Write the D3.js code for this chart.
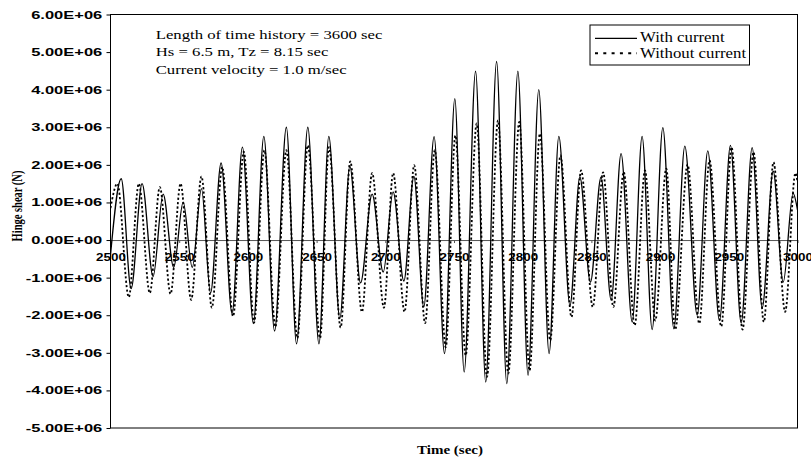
<!DOCTYPE html>
<html>
<head>
<meta charset="utf-8">
<script src="https://cdn.jsdelivr.net/npm/d3@7"></script>
<style>
  body { margin: 0; background: #fff; }
  svg { display: block; }
</style>
</head>
<body>
<div id="chart"></div>
<script>
// Peaks and troughs (time in sec, hinge shear in N)
const withTime = [2500, 2507.8, 2515.0, 2523.0, 2531.0, 2538.3, 2546.0, 2552.9, 2559.5, 2566.2, 2572.8,
  2580.5, 2588.5, 2596.0, 2604.0, 2611.6, 2619.4, 2628.0, 2635.4, 2643.6, 2651.7, 2658.9, 2666.9,
  2674.2, 2682.0, 2690.4, 2698.5, 2705.7, 2713.5, 2720.8, 2728.0, 2735.5, 2743.1, 2750.6, 2757.4,
  2765.7, 2773.1, 2781.0, 2788.4, 2796.5, 2803.9, 2811.7, 2819.2, 2826.3, 2834.4, 2841.6, 2849.3,
  2857.0, 2864.4, 2871.6, 2879.7, 2886.9, 2894.2, 2902.0, 2910.0, 2918.0, 2927.0, 2934.7, 2943.2,
  2951.2, 2959.0, 2967.0, 2974.3, 2982.3, 2989.6, 2996.8, 3000];
const withShear = [-0.40e6, 1.63e6, -1.29e6, 1.50e6, -0.97e6, 1.22e6, -0.73e6, 1.01e6, -0.73e6, 1.37e6, -1.41e6,
  2.05e6, -1.96e6, 2.47e6, -2.22e6, 2.76e6, -2.42e6, 3.00e6, -2.76e6, 3.00e6, -2.76e6, 2.76e6, -2.09e6,
  1.96e6, -1.14e6, 1.22e6, -0.85e6, 1.28e6, -1.09e6, 1.69e6, -1.78e6, 2.75e6, -3.02e6, 3.76e6, -3.51e6,
  4.49e6, -3.78e6, 4.75e6, -3.82e6, 4.49e6, -3.60e6, 4.00e6, -3.02e6, 2.76e6, -1.74e6, 1.68e6, -1.12e6,
  1.67e6, -1.60e6, 2.30e6, -2.18e6, 2.76e6, -2.38e6, 2.99e6, -2.36e6, 2.50e6, -2.00e6, 2.37e6, -2.14e6,
  2.52e6, -2.21e6, 2.46e6, -1.80e6, 1.83e6, -1.12e6, 1.24e6, 0.80e6];

const withoutTime = [2500, 2505.0, 2513.3, 2520.6, 2528.6, 2535.9, 2543.7, 2551.0, 2558.7, 2566.2, 2573.8,
  2581.3, 2589.2, 2597.0, 2604.5, 2612.0, 2620.0, 2628.0, 2636.0, 2643.6, 2652.5, 2659.0, 2667.5,
  2674.5, 2683.0, 2690.4, 2699.0, 2705.7, 2714.0, 2721.0, 2729.0, 2736.0, 2744.0, 2751.0, 2758.5,
  2766.5, 2774.0, 2782.0, 2789.5, 2797.5, 2805.0, 2812.5, 2820.0, 2827.5, 2835.5, 2842.5, 2851.0,
  2858.5, 2866.0, 2873.5, 2881.5, 2889.0, 2896.5, 2904.5, 2911.0, 2920.0, 2928.5, 2936.0, 2944.5,
  2952.0, 2960.0, 2968.0, 2975.5, 2982.5, 2991.0, 2998.5, 3000];
const withoutShear = [0.85e6, 1.50e6, -1.52e6, 1.50e6, -1.41e6, 1.41e6, -1.43e6, 1.50e6, -1.59e6, 1.69e6, -1.80e6,
  1.94e6, -2.03e6, 2.35e6, -2.20e6, 2.39e6, -2.31e6, 2.39e6, -2.61e6, 2.52e6, -2.61e6, 2.47e6, -2.33e6,
  2.09e6, -1.91e6, 1.78e6, -1.80e6, 1.78e6, -1.91e6, 1.99e6, -2.21e6, 2.39e6, -2.85e6, 2.78e6, -3.07e6,
  3.10e6, -3.64e6, 3.18e6, -3.55e6, 3.14e6, -3.47e6, 2.83e6, -2.67e6, 2.25e6, -2.05e6, 1.85e6, -1.78e6,
  1.80e6, -1.78e6, 1.81e6, -2.27e6, 1.85e6, -2.14e6, 1.90e6, -2.38e6, 2.01e6, -2.22e6, 2.12e6, -2.30e6,
  2.47e6, -2.38e6, 2.34e6, -2.18e6, 2.07e6, -1.91e6, 1.78e6, 1.55e6];

const seriesNames = ["With current", "Without current"];
const xTicks = d3.range(2500, 3001, 50);
const yTicks = d3.range(-5e6, 6e6 + 1, 1e6);
const notes = ["Length of time history = 3600 sec", "Hs = 6.5 m, Tz = 8.15 sec", "Current velocity = 1.0 m/sec"];

const sans = "'Liberation Sans', Arial, sans-serif";
const serif = "'Liberation Serif', 'Times New Roman', serif";

const margin = { top: 14.5, right: 13.5, bottom: 31, left: 110.5 };
const width = 811 - margin.left - margin.right;
const height = 459 - margin.top - margin.bottom;

const svg = d3.select("#chart")
  .append("svg")
  .attr("width", 811)
  .attr("height", 459)
  .append("g")
  .attr("transform", `translate(${margin.left},${margin.top})`);

const x = d3.scaleLinear().domain([2500, 3000]).range([0, width]);
const y = d3.scaleLinear().domain([-5e6, 6e6]).range([height, 0]);

// "6.00E+06" style labels
function sciLabel(v) {
  if (v === 0) return "0.00E+00";
  const e = Math.floor(Math.log10(Math.abs(v)) + 1e-9);
  const m = v / Math.pow(10, e);
  return m.toFixed(2) + "E" + (e < 0 ? "-" : "+") + String(Math.abs(e)).padStart(2, "0");
}

svg.append("defs").append("clipPath").attr("id", "plot-clip")
  .append("rect").attr("width", width).attr("height", height);

// Y axis
const yAxis = svg.append("g")
  .call(d3.axisLeft(y).tickValues(yTicks).tickFormat(sciLabel).tickSizeInner(4).tickSizeOuter(0).tickPadding(1.5));
yAxis.select(".domain").remove();
yAxis.selectAll("line").attr("stroke", "#000");
yAxis.selectAll("text")
  .attr("transform", "scale(1.5,1)")
  .attr("font-family", sans)
  .attr("font-weight", "bold")
  .attr("font-size", "11px")
  .attr("fill", "#000");

// X axis along zero
const xAxis = svg.append("g")
  .attr("transform", `translate(0,${y(0)})`)
  .call(d3.axisBottom(x).tickValues(xTicks).tickFormat(d3.format("d")).tickSizeInner(3).tickSizeOuter(0).tickPadding(10.5));
xAxis.select(".domain").attr("stroke", "#555");
xAxis.selectAll("line").attr("stroke", "#555");
xAxis.selectAll("text")
  .attr("transform", "scale(1.22,1)")
  .attr("font-family", sans)
  .attr("font-weight", "bold")
  .attr("font-size", "11px")
  .attr("fill", "#000");

// Lines
const line = d3.line()
  .x(d => x(d[0]))
  .y(d => y(d[1]))
  .curve(d3.curveMonotoneX);

const lines = svg.append("g").attr("clip-path", "url(#plot-clip)");

lines.append("path")
  .datum(d3.zip(withoutTime, withoutShear))
  .attr("fill", "none")
  .attr("stroke", "#000")
  .attr("stroke-width", 1.8)
  .attr("stroke-dasharray", "2.2,2.2")
  .attr("d", line);

lines.append("path")
  .datum(d3.zip(withTime, withShear))
  .attr("fill", "none")
  .attr("stroke", "#000")
  .attr("stroke-width", 1.3)
  .attr("d", line);

// Plot frame
svg.append("rect")
  .attr("width", width)
  .attr("height", height)
  .attr("fill", "none")
  .attr("stroke", "#000")
  .attr("stroke-width", 1);

// Notes
notes.forEach(function(t, i) {
  svg.append("text")
    .attr("transform", `translate(${155.7 - margin.left},${[39.3, 56, 73.5][i] - margin.top}) scale(1.24,1)`)
    .attr("font-family", serif)
    .attr("font-size", "13.5px")
    .attr("fill", "#000")
    .text(t);
});

// Legend
const legend = svg.append("g")
  .attr("transform", `translate(${590 - margin.left},${25 - margin.top})`);

legend.append("rect")
  .attr("width", 159.5)
  .attr("height", 40)
  .attr("fill", "#fff")
  .attr("stroke", "#000")
  .attr("stroke-width", 1);

seriesNames.forEach(function(name, i) {
  legend.append("line")
    .attr("x1", 5).attr("x2", 47)
    .attr("y1", 13.3 + i * 15).attr("y2", 13.3 + i * 15)
    .attr("stroke", "#000")
    .attr("stroke-width", i === 0 ? 1.2 : 2)
    .attr("stroke-dasharray", i === 0 ? null : "3,5.3");

  legend.append("text")
    .attr("transform", `translate(50,${17 + i * 16}) scale(1.2,1)`)
    .attr("font-family", serif)
    .attr("font-size", "14px")
    .attr("fill", "#000")
    .text(name);
});

// Axis titles
svg.append("text")
  .attr("transform", `translate(${22 - margin.left},${206 - margin.top}) rotate(-90) scale(1,1.3)`)
  .attr("text-anchor", "middle")
  .attr("font-family", serif)
  .attr("font-weight", "bold")
  .attr("font-size", "10.5px")
  .attr("fill", "#000")
  .text("Hinge shear (N)");

svg.append("text")
  .attr("transform", `translate(${450 - margin.left},${454 - margin.top}) scale(1.2,1)`)
  .attr("text-anchor", "middle")
  .attr("font-family", serif)
  .attr("font-weight", "bold")
  .attr("font-size", "12.5px")
  .attr("fill", "#000")
  .text("Time (sec)");
</script>
</body>
</html>
